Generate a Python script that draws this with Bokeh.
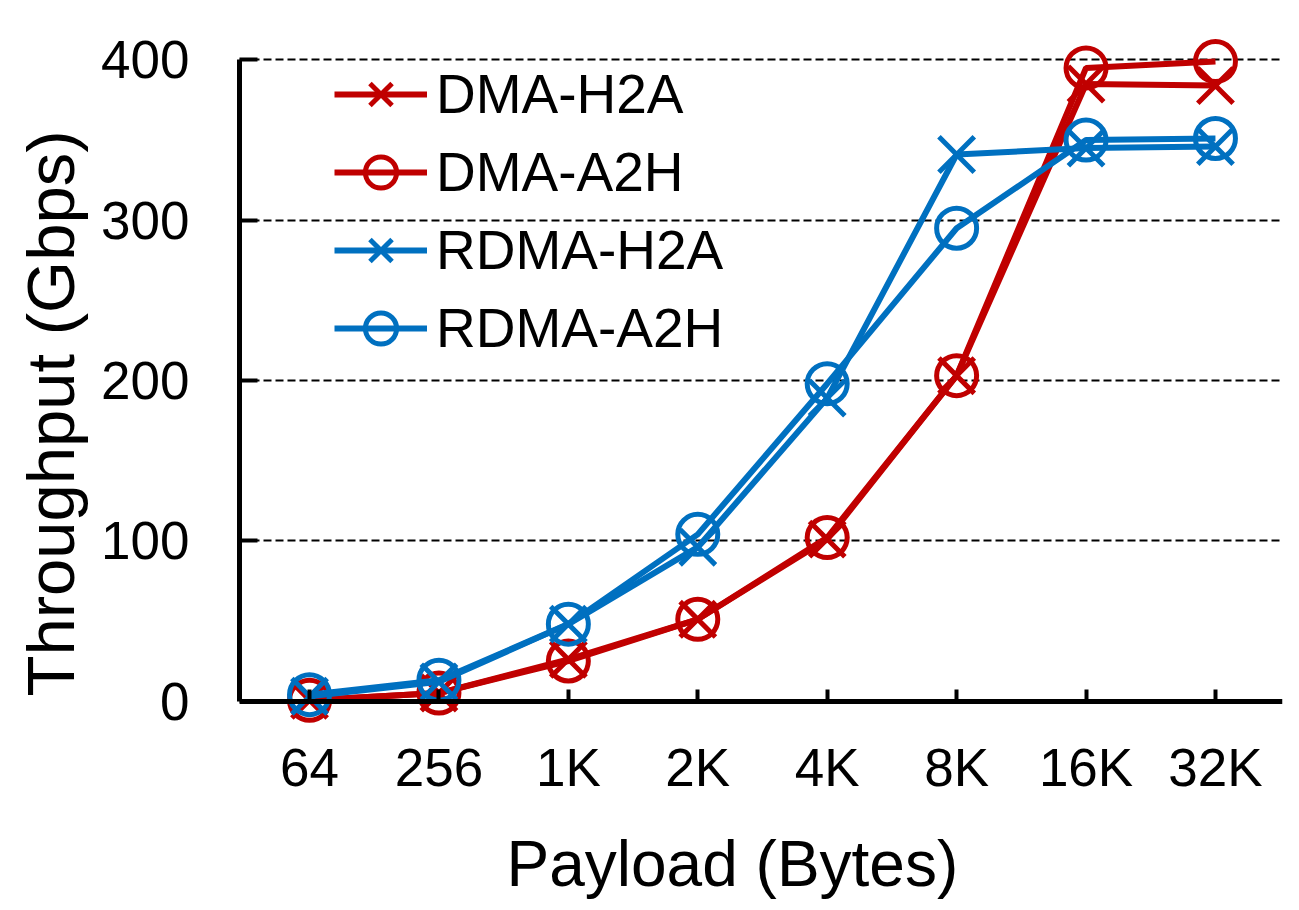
from bokeh.plotting import figure
from bokeh.models import Range1d, FixedTicker, Legend, LegendItem, LinearAxis, Title
from bokeh.embed import file_html
from bokeh.resources import INLINE

categories = ["64", "256", "1K", "2K", "4K", "8K", "16K", "32K"]
dma_h2a = [0.5, 5, 26, 51, 101, 203, 385, 384]
dma_a2h = [0.5, 5, 25, 51, 102, 203, 395, 399]
rdma_h2a = [3, 12, 48, 96, 189, 341, 345, 346]
rdma_a2h = [4, 13, 48, 104, 198, 295, 350, 351]
y_ticks = [0, 100, 200, 300, 400]

RED = "#C00000"
BLUE = "#0070C0"
FONT = "Liberation Sans"

xs = list(range(len(categories)))

p = figure(frame_width=1043, frame_height=686, output_backend="svg",
           toolbar_location=None, x_range=Range1d(-0.541, 7.518),
           y_range=Range1d(-14, 414))
p.min_border_left = 237
p.min_border_right = 11
p.min_border_top = 37
p.min_border_bottom = 0
p.outline_line_color = None
p.background_fill_color = "white"

# x axis at frame bottom: tick labels only
xa = p.xaxis[0]
xa.ticker = FixedTicker(ticks=xs)
xa.major_label_overrides = {i: c for i, c in zip(xs, categories)}
xa.axis_line_color = None
xa.major_tick_line_color = None
xa.minor_tick_line_color = None
xa.major_tick_out = 0
xa.major_tick_in = 0
xa.major_label_standoff = 14
xa.major_label_text_font = FONT
xa.major_label_text_font_size = "53px"
xa.major_label_text_color = "black"

# y axis
ya = p.yaxis[0]
ya.ticker = FixedTicker(ticks=y_ticks)
ya.bounds = (0, 400)
ya.axis_line_width = 5
ya.axis_line_color = "black"
ya.major_tick_line_width = 4
ya.major_tick_line_color = "black"
ya.major_tick_out = 0
ya.major_tick_in = 18
ya.minor_tick_line_color = None
ya.major_label_standoff = 50
ya.major_label_text_font = FONT
ya.major_label_text_font_size = "53px"
ya.major_label_text_color = "black"

p.add_layout(Title(text="Throughput (Gbps)", align="left", offset=27,
                   text_font=FONT, text_font_size="67px",
                   text_font_style="normal", text_color="black",
                   standoff=21), "left")
p.add_layout(Title(text="Payload (Bytes)", align="left", offset=267,
                   text_font=FONT, text_font_size="64px",
                   text_font_style="normal", text_color="black",
                   standoff=53), "below")

# x axis line and inward ticks at value 0
x0 = LinearAxis(fixed_location=0, ticker=FixedTicker(ticks=xs))
x0.axis_line_width = 5
x0.axis_line_color = "black"
x0.major_tick_line_width = 4
x0.major_tick_line_color = "black"
x0.major_tick_in = 12
x0.major_tick_out = 0
x0.minor_tick_line_color = None
x0.major_label_text_font_size = "1px"
x0.major_label_text_color = None
x0.major_label_standoff = 0
p.add_layout(x0, "below")

p.xgrid.grid_line_color = None
p.ygrid.ticker = FixedTicker(ticks=y_ticks[1:])
p.ygrid.grid_line_color = "black"
p.ygrid.grid_line_width = 2
p.ygrid.grid_line_dash = "8 4"

series = [
    ("DMA-H2A", dma_h2a, RED, "x"),
    ("DMA-A2H", dma_a2h, RED, "circle"),
    ("RDMA-H2A", rdma_h2a, BLUE, "x"),
    ("RDMA-A2H", rdma_a2h, BLUE, "circle"),
]
items = []
for name, ys, color, marker in series:
    ln = p.line(xs, ys, line_color=color, line_width=6)
    if marker == "circle":
        sc = p.scatter(xs, ys, marker="circle", size=40, line_color=color,
                       line_width=5, fill_color=None)
    else:
        sc = p.scatter(xs, ys, marker="x", size=50, line_color=color,
                       line_width=5)
    items.append(LegendItem(label=name, renderers=[ln, sc]))

legend = Legend(items=items, location=(95, 356))
legend.glyph_width = 93
legend.glyph_height = 78
legend.spacing = 0
legend.padding = 0
legend.margin = 0
legend.label_standoff = 9
legend.label_text_font = FONT
legend.label_text_font_size = "55px"
legend.label_text_color = "black"
legend.border_line_color = None
legend.background_fill_alpha = 0
p.add_layout(legend, "center")

open("out.html", "w").write(file_html(p, INLINE))
